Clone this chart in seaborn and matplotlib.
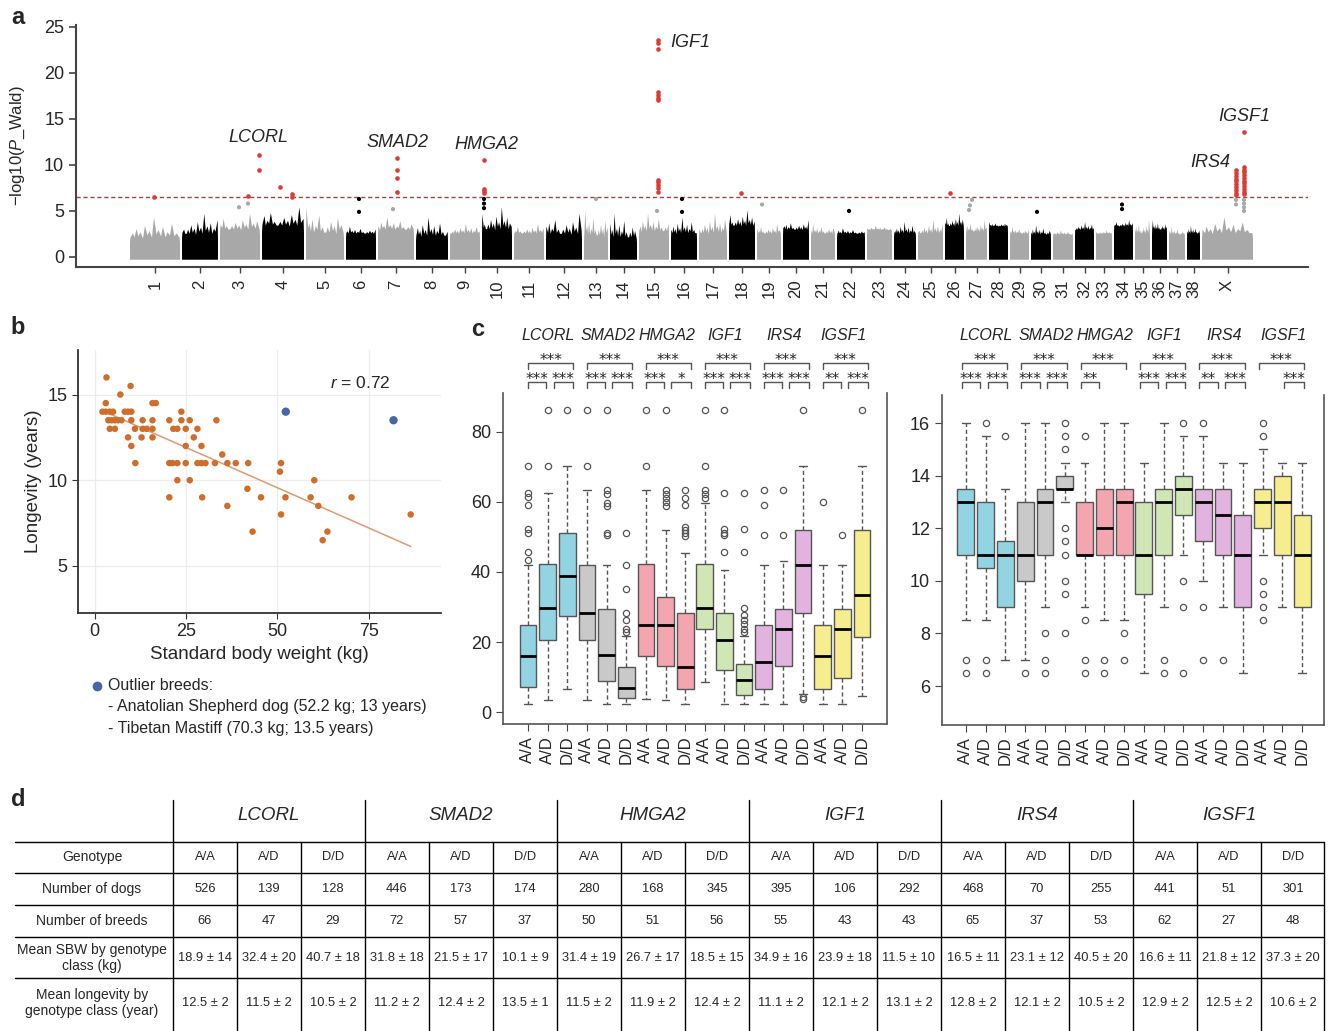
import matplotlib
matplotlib.use("Agg")
import matplotlib.pyplot as plt
import matplotlib.transforms as mtransforms
from matplotlib.lines import Line2D
import numpy as np
import seaborn as sns

W, H = 1328, 1031

# ---------------- panel a: GWAS manhattan ----------------
chroms = [str(i) for i in range(1, 39)] + ["X"]
chrom_len = [52, 38, 42, 44, 40, 32, 38, 34, 32, 32, 32, 38, 26, 29, 32, 28, 30, 28, 26, 28,
             26, 30, 27, 24, 27, 21, 23, 21, 21, 22, 22, 21, 18, 21, 17, 17, 18, 15, 53]
# height of the dense band and of the sparse spikes above it
chrom_core = [2.0, 2.4, 2.9, 3.3, 2.5, 2.5, 2.9, 2.2, 2.5, 2.9, 2.5, 2.4, 2.2, 2.0, 2.7, 2.5,
              2.5, 3.3, 2.5, 2.9, 2.5, 2.5, 2.9, 2.5, 2.5, 3.3, 2.7, 3.3, 2.5, 2.4, 2.4, 2.9,
              2.5, 3.3, 2.5, 2.9, 2.4, 2.5, 2.5]
chrom_peak = [4.3, 4.7, 4.7, 5.4, 5.4, 3.3, 4.3, 4.3, 3.6, 5.4, 3.6, 4.7, 5.1, 4.7, 4.7, 4.3,
              4.7, 5.1, 3.6, 4.0, 3.6, 3.1, 3.4, 3.8, 4.0, 4.7, 4.0, 3.8, 3.3, 3.4, 2.9, 3.8,
              2.9, 4.0, 4.0, 4.0, 3.3, 3.4, 4.3]
# significant SNPs (cumulative position, -log10 P)
hit_pos = [25, 130, 130, 119, 151, 163, 163,
           268, 268, 268, 268,
           355, 355, 355, 355,
           529, 529, 529, 529, 529, 529, 529, 529, 529, 529, 529, 529,
           612, 821,
           1107, 1107, 1107, 1107, 1107, 1107, 1107, 1107, 1107, 1107,
           1115, 1115, 1115, 1115, 1115, 1115, 1115, 1115, 1115, 1115, 1115, 1115]
hit_val = [6.5, 11.1, 9.4, 6.6, 7.6, 6.8, 6.5,
           10.8, 9.5, 8.6, 7.1,
           10.5, 7.4, 7.2, 7.0,
           23.6, 23.2, 22.6, 17.9, 17.6, 17.3, 17.0, 8.4, 8.1, 7.8, 7.5, 7.1,
           6.9, 7.0,
           9.4, 9.1, 8.8, 8.5, 8.2, 7.9, 7.6, 7.3, 7.0, 6.7,
           13.6, 9.8, 9.5, 9.2, 8.9, 8.6, 8.3, 8.0, 7.7, 7.4, 7.1, 6.8]
# isolated non-significant SNPs above the dense band
snp_pos = [230, 230, 355, 355, 355, 467, 553, 553, 119, 110, 264, 633, 720,
           843, 841, 840, 908, 993, 993, 528, 1115, 1115, 1115, 1115, 1107, 1107]
snp_val = [6.3, 4.9, 6.3, 5.8, 5.3, 6.3, 6.3, 4.9, 5.8, 5.4, 5.2, 5.7, 5.0,
           6.2, 5.6, 5.1, 4.9, 5.7, 5.2, 5.0, 6.2, 5.8, 5.4, 5.0, 6.2, 5.7]
threshold = 6.5
genes_a = ["LCORL", "SMAD2", "HMGA2", "IGF1", "IRS4", "IGSF1"]
genes_a_pos = [129, 268, 357, 541, 1101, 1115]
genes_a_val = [13.0, 12.4, 12.2, 23.3, 10.3, 15.3]

# ---------------- panel b: body weight vs longevity ----------------
sbw = [2.1, 3.2, 3.0, 3.0, 4.1, 5.0, 3.7, 4.6, 5.5, 6.4, 4.1, 5.5, 7.0, 7.3, 8.2, 9.1, 10.0,
       9.8, 9.1, 10.0, 10.0, 11.0, 11.1, 12.8, 13.1, 13.1, 14.2, 15.8, 16.7, 15.8, 15.8, 15.8,
       20.4, 20.4, 20.4, 21.3, 22.6, 21.5, 22.6, 22.6, 23.7, 23.7, 24.9, 24.9, 24.9, 26.0, 26.0,
       27.1, 28.1, 28.1, 29.2, 29.2, 29.4, 30.3, 32.9, 33.3, 34.9, 36.3, 36.3, 38.6, 42.0, 41.8,
       43.2, 45.5, 50.7, 51.0, 51.0, 52.2, 59.1, 60.1, 61.2, 62.4, 63.7, 70.3, 86.5]
longevity = [14.0, 16.0, 14.5, 14.0, 14.0, 14.0, 13.5, 13.5, 13.5, 13.5, 13.0, 13.0, 15.0, 13.5,
             14.0, 14.0, 14.0, 15.5, 12.5, 13.5, 12.0, 13.0, 11.0, 12.5, 13.5, 13.0, 13.0, 14.5,
             14.5, 13.5, 13.0, 12.5, 13.5, 9.0, 11.0, 11.0, 11.0, 13.0, 13.0, 10.0, 14.0, 13.5,
             13.0, 12.0, 11.0, 13.5, 10.0, 12.5, 13.0, 11.0, 12.0, 11.0, 9.0, 11.0, 11.0, 13.5,
             11.5, 11.0, 8.5, 11.0, 11.0, 9.5, 7.0, 9.0, 10.5, 11.0, 8.0, 9.0, 9.0, 10.0, 8.5,
             6.5, 7.0, 9.0, 8.0]
outlier_sbw = [52.3, 81.8]
outlier_lon = [14.0, 13.5]
r_value = 0.72

# ---------------- panel c: boxplots by genotype ----------------
genes = ["LCORL", "SMAD2", "HMGA2", "IGF1", "IRS4", "IGSF1"]
genotypes = ["A/A", "A/D", "D/D"]
sbw_q1 = [7.3, 20.5, 27.3, 20.5, 9.0, 4.1, 16.0, 13.1, 6.5, 23.8, 11.9, 5.0, 6.7, 13.1, 28.3, 6.7, 9.8, 21.4]
sbw_med = [16.0, 29.7, 38.8, 28.3, 16.2, 7.0, 25.0, 25.0, 13.0, 29.7, 20.5, 9.2, 14.3, 23.8, 42.1, 16.0, 23.8, 33.3]
sbw_q3 = [25.0, 42.2, 51.0, 41.9, 29.5, 13.0, 42.2, 32.9, 28.3, 42.2, 28.3, 13.8, 25.0, 29.5, 52.1, 25.0, 29.5, 52.1]
sbw_lo = [2.4, 3.5, 6.7, 3.5, 2.4, 2.4, 3.8, 3.5, 2.4, 8.6, 2.4, 2.4, 2.4, 2.4, 5.2, 2.4, 2.4, 4.6]
sbw_hi = [42.1, 62.6, 70.3, 63.5, 42.1, 21.6, 63.3, 52.1, 45.4, 59.7, 40.7, 21.6, 42.1, 43.1, 70.3, 42.1, 42.1, 70.3]
sbw_out = [[70.3, 62.6, 61.4, 59.0, 52.4, 51.1, 45.7, 43.3], [86.2, 70.3], [86.2],
           [86.2, 70.3], [86.2, 63.3, 62.4, 59.7, 58.8, 51.0, 50.5],
           [51.0, 42.1, 35.0, 28.3, 26.2, 23.8, 22.9],
           [86.2, 70.3], [86.2, 63.3, 62.4, 61.2, 60.0, 58.8], [63.3, 61.2, 59.0, 52.9, 51.9, 51.0, 50.2],
           [86.2, 70.3, 63.3, 62.4, 61.2], [86.2, 62.6, 52.4, 51.1, 50.5, 45.7],
           [62.6, 52.4, 45.7, 29.7, 27.6, 26.2, 25.2, 23.8, 22.9],
           [63.5, 59.0, 50.7], [63.5, 50.7], [86.2, 4.3, 3.8],
           [60.0], [50.7], [86.2]]
lon_q1 = [11.0, 10.5, 9.0, 10.0, 11.0, 13.5, 11.0, 11.0, 11.0, 9.5, 11.0, 12.5, 11.5, 11.0, 9.0, 12.0, 11.0, 9.0]
lon_med = [13.0, 11.0, 11.0, 11.0, 13.0, 13.5, 11.0, 12.0, 13.0, 11.0, 13.0, 13.5, 13.0, 12.5, 11.0, 13.0, 13.0, 11.0]
lon_q3 = [13.5, 13.0, 11.5, 13.0, 13.5, 14.0, 13.0, 13.5, 13.5, 13.0, 13.5, 14.0, 13.5, 13.5, 12.5, 13.5, 14.0, 12.5]
lon_lo = [8.5, 8.5, 7.0, 7.0, 9.0, 13.0, 9.0, 8.5, 8.5, 6.5, 9.0, 11.0, 10.0, 9.0, 6.5, 11.0, 9.0, 6.5]
lon_hi = [16.0, 15.5, 13.5, 16.0, 16.0, 14.5, 14.5, 16.0, 16.0, 14.5, 16.0, 15.5, 15.5, 14.5, 14.5, 15.0, 14.5, 14.5]
lon_out = [[7.0, 6.5], [16.0, 7.0, 6.5], [15.5], [6.5], [8.0, 7.0, 6.5],
           [16.0, 15.5, 15.0, 12.0, 11.5, 11.0, 10.0, 9.5, 8.0],
           [15.5, 8.5, 7.0, 6.5], [7.0, 6.5], [8.0, 7.0], [], [7.0, 6.5], [16.0, 10.0, 9.0, 6.5],
           [16.0, 9.0, 7.0], [7.0], [], [16.0, 15.5, 10.0, 9.5, 9.0, 8.5], [], []]
# (all, A/A vs A/D, A/D vs D/D)
sig_sbw = [("***", "***", "***"), ("***", "***", "***"), ("***", "***", "*"),
           ("***", "***", "***"), ("***", "***", "***"), ("***", "**", "***")]
sig_lon = [("***", "***", "***"), ("***", "***", "***"), ("***", "**", ""),
           ("***", "***", "***"), ("***", "**", "***"), ("***", "", "***")]
gene_colors = ["#93d4e3", "#c9c9c9", "#f3a6b0", "#d0e7b5", "#e3b3df", "#f6ee8e"]

# ---------------- panel d: table ----------------
n_dogs = [526, 139, 128, 446, 173, 174, 280, 168, 345, 395, 106, 292, 468, 70, 255, 441, 51, 301]
n_breeds = [66, 47, 29, 72, 57, 37, 50, 51, 56, 55, 43, 43, 65, 37, 53, 62, 27, 48]
sbw_mean = [18.9, 32.4, 40.7, 31.8, 21.5, 10.1, 31.4, 26.7, 18.5, 34.9, 23.9, 11.5, 16.5, 23.1, 40.5, 16.6, 21.8, 37.3]
sbw_sd = [14, 20, 18, 18, 17, 9, 19, 17, 15, 16, 18, 10, 11, 12, 20, 11, 12, 20]
lon_mean = [12.5, 11.5, 10.5, 11.2, 12.4, 13.5, 11.5, 11.9, 12.4, 11.1, 12.1, 13.1, 12.8, 12.1, 10.5, 12.9, 12.5, 10.6]
lon_sd = [2, 2, 2, 2, 2, 1, 2, 2, 2, 2, 2, 2, 2, 2, 2, 2, 2, 2]
row_labels = ["Genotype", "Number of dogs", "Number of breeds",
              "Mean SBW by genotype\nclass (kg)", "Mean longevity by\ngenotype class (year)"]

sns.set_style("ticks")
plt.rcParams['font.family'] = ['Liberation Sans', 'DejaVu Sans']
plt.rcParams['mathtext.fontset'] = 'custom'
plt.rcParams['mathtext.rm'] = 'Liberation Sans'
plt.rcParams['mathtext.it'] = 'Liberation Sans:italic'

fig = plt.figure(figsize=(W / 100, H / 100), dpi=100)


def rect(l, t, r, b):
    return [l / W, 1 - b / H, (r - l) / W, (b - t) / H]


def fy(py):
    return 1 - py / H


# ---- a ----
ax = fig.add_axes(rect(76, 25, 1308, 267))
ends = np.cumsum(chrom_len)
starts = ends - np.array(chrom_len)
mids = (starts + ends) / 2
ccol = ['#a8a8a8' if i % 2 == 0 else '#000000' for i in range(len(chroms))]
# skyline shape used to draw the ragged top of each dense block of SNPs
sky_x = np.array([0, .01, .06, .09, .13, .17, .21, .26, .30, .35, .39, .44, .48, .53, .57,
                  .62, .66, .71, .75, .80, .84, .89, .93, .99, 1.0])
sky_h = np.array([0, .05, .25, .05, .45, .1, .3, .0, .6, .15, .35, .05, 1.0, .2, .4, .1,
                  .55, .05, .3, .15, .7, .1, .25, .05, 0])
for i, (s, e, c, pk, col) in enumerate(zip(starts, ends, chrom_core, chrom_peak, ccol)):
    w = e - s - 2
    h = np.roll(sky_h[1:-1], 3 * i)
    xs = np.concatenate([[s + 1], s + 1 + sky_x * w, [e - 1]])
    ys = np.concatenate([[-0.3], [c * 0.8], c + (pk - c) * h, [c * 0.8], [-0.3]])
    ax.fill(xs, ys, color=col, lw=0)
snp_idx = np.searchsorted(ends, snp_pos, side='right')
ax.scatter(snp_pos, snp_val, s=9, c=[ccol[i] for i in snp_idx], lw=0, zorder=3)
ax.axhline(threshold, color='#a24545', ls=(0, (3, 2)), lw=1, zorder=2)
ax.scatter(hit_pos, hit_val, s=11, color='#dd3a33', lw=0, zorder=4)
for g, x, y in zip(genes_a, genes_a_pos, genes_a_val):
    ha = 'left' if g == 'IGF1' else ('right' if g == 'IRS4' else 'center')
    ax.text(x, y, g, style='italic', fontsize=13, ha=ha, va='center')
ax.set_xlim(-53, 1179)
ax.set_ylim(-1.09, 25.2)
ax.set_yticks([0, 5, 10, 15, 20, 25])
ax.set_xticks(mids)
ax.set_xticklabels(chroms, rotation=90, fontsize=12)
ax.tick_params(axis='y', labelsize=13, length=5, width=1.2, color='#444444')
ax.tick_params(axis='x', length=4, width=1, color='#444444', pad=5)
ax.set_ylabel("\u2212log10($\\it{P}$_Wald)", fontsize=12, labelpad=12)
sns.despine(ax=ax)
for sp in ['left', 'bottom']:
    ax.spines[sp].set_color('#444444')
    ax.spines[sp].set_linewidth(1.5)

# ---- b ----
axb = fig.add_axes(rect(78, 350, 441, 613))
sns.scatterplot(x=sbw, y=longevity, color='#cf6d2a', s=22, edgecolor='none', ax=axb, zorder=3)
sns.scatterplot(x=outlier_sbw, y=outlier_lon, color='#4a64aa', s=36, edgecolor='none', ax=axb, zorder=3)
sns.regplot(x=sbw, y=longevity, scatter=False, ci=None, ax=axb,
            line_kws=dict(color='#df9a70', lw=1.1))
axb.text(64.4, 15.7, "$\\it{r}$ = 0.72", fontsize=12.5, ha='left', va='center')
axb.set_xlim(-4.6, 94.8)
axb.set_ylim(2.25, 17.6)
axb.set_xticks([0, 25, 50, 75])
axb.set_yticks([5, 10, 15])
axb.grid(True, color='#ececec', lw=0.9)
axb.set_axisbelow(True)
axb.set_xlabel("Standard body weight (kg)", fontsize=13.5)
axb.set_ylabel("Longevity (years)", fontsize=13.5)
axb.tick_params(labelsize=13, length=4, color='#333333')
sns.despine(ax=axb)
for sp in ['left', 'bottom']:
    axb.spines[sp].set_color('#333333')
    axb.spines[sp].set_linewidth(1.3)
fig.add_artist(Line2D([97 / W], [fy(686)], marker='o', color='#4a64aa', ms=6, lw=0))
fig.text(108 / W, fy(686), "Outlier breeds:", fontsize=11.5, va='center')
fig.text(108 / W, fy(707), "- Anatolian Shepherd dog (52.2 kg; 13 years)", fontsize=11.5, va='center')
fig.text(108 / W, fy(729), "- Tibetan Mastiff (70.3 kg; 13.5 years)", fontsize=11.5, va='center')


# ---- c ----
def box_panel(r, q1, med, q3, lo, hi, out, sig, ylim, yticks, xlim, br_shift):
    axc = fig.add_axes(rect(*r))
    stats = [dict(med=m, q1=a, q3=b, whislo=l, whishi=h, fliers=f)
             for a, m, b, l, h, f in zip(q1, med, q3, lo, hi, out)]
    bp = axc.bxp(stats, positions=list(range(18)), widths=0.85, capwidths=0.4,
                 patch_artist=True, showfliers=True,
                 boxprops=dict(edgecolor='#555555', linewidth=1),
                 medianprops=dict(color='black', linewidth=2),
                 whiskerprops=dict(color='#555555', linestyle=(0, (3, 2)), linewidth=1),
                 capprops=dict(color='#555555', linewidth=1),
                 flierprops=dict(marker='o', markerfacecolor='none', markeredgecolor='#555555',
                                 markersize=4.5, markeredgewidth=0.9))
    for i, patch in enumerate(bp['boxes']):
        patch.set_facecolor(gene_colors[i // 3])
    axc.set_xlim(*xlim)
    axc.set_ylim(*ylim)
    axc.set_yticks(yticks)
    axc.set_xticks(list(range(18)))
    axc.set_xticklabels(genotypes * 6, rotation=90, fontsize=12)
    axc.tick_params(axis='y', labelsize=13, length=5, color='#444444')
    axc.tick_params(axis='x', length=5, color='#444444')
    axc.spines['top'].set_visible(False)
    for sp in ['left', 'bottom', 'right']:
        axc.spines[sp].set_color('#555555')
        axc.spines[sp].set_linewidth(1.2)
    tr = mtransforms.blended_transform_factory(axc.transData, fig.transFigure)

    def bracket(x0, x1, py, label):
        if not label:
            return
        axc.plot([x0, x0, x1, x1], [fy(py + 6), fy(py), fy(py), fy(py + 6)], color='#555555',
                 lw=1, transform=tr, clip_on=False)
        axc.text((x0 + x1) / 2, fy(py - 3), label, fontsize=11, ha='center', va='center',
                 family='DejaVu Sans', transform=tr)

    for g, (gene, s) in enumerate(zip(genes, sig)):
        b0 = 3 * g + br_shift
        axc.text(3 * g + 1.05, fy(335), gene, style='italic', fontsize=11.5, ha='center',
                 va='center', transform=tr)
        bracket(b0, b0 + 2.3, 363, s[0])
        bracket(b0, b0 + 0.93, 382, s[1])
        bracket(b0 + 1.3, b0 + 2.3, 382, s[2])
    return axc


box_panel((503, 393, 887, 724), sbw_q1, sbw_med, sbw_q3, sbw_lo, sbw_hi, sbw_out, sig_sbw,
          (-3.4, 91.1), [0, 20, 40, 60, 80], (-1.27, 18.27), 0.0)
box_panel((942, 395, 1324, 725), lon_q1, lon_med, lon_q3, lon_lo, lon_hi, lon_out, sig_lon,
          (4.52, 17.07), [6, 8, 10, 12, 14, 16], (-1.2, 18.1), -0.2)

# ---- d: table ----
axd = fig.add_axes([0, 0, 1, (H - 790) / H])
axd.set_xlim(0, W)
axd.set_ylim(H, 790)
axd.axis('off')
col0, gw, cw = 173, 192, 64
right = col0 + 6 * gw - 1
for y in [842, 873, 905, 937, 978]:
    axd.plot([15, right], [y, y], color='black', lw=1)
for g in range(6):
    x = col0 + g * gw
    axd.plot([x, x], [800, H], color='black', lw=1)
    for k in (1, 2):
        axd.plot([x + k * cw, x + k * cw], [842, H], color='black', lw=1)
axd.plot([right, right], [842, H], color='black', lw=1)
row_y = [857, 889, 921, 958, 1003]
for lab, y in zip(row_labels, row_y):
    axd.text(92, y, lab, fontsize=10, ha='center', va='center', linespacing=1.2)
for g, gene in enumerate(genes):
    axd.text(col0 + g * gw + gw / 2, 815, gene, style='italic', fontsize=13.5, ha='center', va='center')
for i in range(18):
    cx = col0 + (i // 3) * gw + (i % 3) * cw + cw / 2
    cells = [genotypes[i % 3], str(n_dogs[i]), str(n_breeds[i]),
             f"{sbw_mean[i]:.1f} \u00b1 {sbw_sd[i]}", f"{lon_mean[i]:.1f} \u00b1 {lon_sd[i]}"]
    for txt, y in zip(cells, row_y):
        axd.text(cx, y, txt, fontsize=9.3, ha='center', va='center')

# panel letters
for letter, px, py in [('a', 18, 18), ('b', 18, 328), ('c', 478, 330), ('d', 18, 800)]:
    fig.text(px / W, fy(py), letter, fontsize=17, fontweight='bold', ha='center', va='center')

fig.savefig("out.png", dpi=100)
